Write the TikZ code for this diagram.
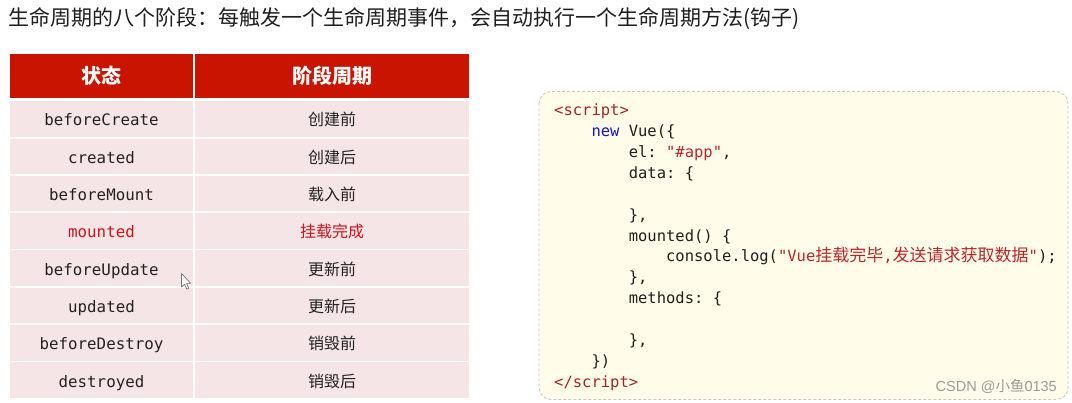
\documentclass[tikz,border=0pt]{standalone}
\usepackage{fontspec}
\setmainfont{Noto Sans CJK SC}
\newfontfamily\cjk{Noto Sans CJK SC}
\setmonofont{DejaVu Sans Mono}
\newfontfamily\wmfont{Liberation Sans}
\definecolor{hdrred}{HTML}{C81400}
\definecolor{rowpink}{HTML}{F6E5E7}
\definecolor{txtdark}{HTML}{222222}
\definecolor{hired}{HTML}{D0121B}
\definecolor{boxfill}{HTML}{FFFDEA}
\definecolor{boxline}{HTML}{C8C8C0}
\definecolor{tagred}{HTML}{A52424}
\definecolor{kwblue}{HTML}{1414C8}
\definecolor{strred}{HTML}{B8262A}
\definecolor{wmgray}{HTML}{9A9A9A}
\tikzset{
  hdrcell/.style={fill=hdrred, text=white, minimum height=44pt, inner sep=0pt,
    font=\fontsize{20}{20}\cjk\bfseries},
  lcell/.style={fill=rowpink, minimum width=183pt, minimum height=35.5pt, inner sep=0pt,
    text=txtdark, font=\fontsize{15.8}{16}\ttfamily, text height=16pt, text depth=2pt},
  rcell/.style={fill=rowpink, minimum width=274pt, minimum height=35.5pt, inner sep=0pt,
    text=txtdark, font=\fontsize{16}{16}\cjk, text height=16pt, text depth=2pt},
  codeline/.style={anchor=base west, inner sep=0pt, text=black!88,
    font=\fontsize{15.5}{16}\ttfamily},
}
\begin{document}
\begin{tikzpicture}[x=1pt,y=-1pt]
\useasboundingbox (0,0) rectangle (1072,403);
\fill[white] (0,0) rectangle (1072,403);
% title
\node[anchor=west, inner sep=0pt, text=black!88, font=\fontsize{21}{21}\cjk] (title) at (8,18.5)
  {生命周期的八个阶段：每触发一个生命周期事件，会自动执行一个生命周期方法(钩子)};
% table header
\node[hdrcell, minimum width=183pt] (h1) at (101.5,76) {状态};
\node[hdrcell, minimum width=274pt] (h2) at (332,76) {阶段周期};
% rows
\node[lcell] (l1) at (101.5,119) {beforeCreate};
\node[rcell] (r1) at (332,119) {创建前};
\node[lcell] (l2) at (101.5,156.3) {created};
\node[rcell] (r2) at (332,156.3) {创建后};
\node[lcell] (l3) at (101.5,193.6) {beforeMount};
\node[rcell] (r3) at (332,193.6) {载入前};
\node[lcell, text=hired] (l4) at (101.5,230.9) {mounted};
\node[rcell, text=hired] (r4) at (332,230.9) {挂载完成};
\node[lcell] (l5) at (101.5,268.2) {beforeUpdate};
\node[rcell] (r5) at (332,268.2) {更新前};
\node[lcell] (l6) at (101.5,305.5) {updated};
\node[rcell] (r6) at (332,305.5) {更新后};
\node[lcell] (l7) at (101.5,342.8) {beforeDestroy};
\node[rcell] (r7) at (332,342.8) {销毁前};
\node[lcell] (l8) at (101.5,380.1) {destroyed};
\node[rcell] (r8) at (332,380.1) {销毁后};
% mouse pointer
\draw[black!55, fill=white, line width=0.7pt, line join=round]
  (181.5,273.5) -- (181.5,287) -- (184.6,284.2) -- (186.8,289.2) -- (188.8,288.3)
  -- (186.6,283.4) -- (190.8,283.4) -- cycle;
% code box
\draw[boxline, fill=boxfill, dash pattern=on 3pt off 2pt, line width=0.9pt, rounded corners=12pt]
  (539,91.5) rectangle (1068,399.5);
\node[codeline, text=tagred] (c1) at (554,116) {<script>};
\node[codeline] (c2) at (554,136.85) {\hspace*{37.3pt}{\color{kwblue}new} Vue(\{};
\node[codeline] (c3) at (554,157.7) {\hspace*{74.6pt}el: {\color{strred}"\#app"},};
\node[codeline] (c4) at (554,178.55) {\hspace*{74.6pt}data: \{};
\node[codeline] (c6) at (554,220.25) {\hspace*{74.6pt}\},};
\node[codeline] (c7) at (554,241.1) {\hspace*{74.6pt}mounted() \{};
\node[codeline] (c8) at (554,261.95) {\hspace*{111.9pt}console.log({\color{strred}"Vue{\fontsize{17}{17}\cjk 挂载完毕},{\fontsize{17}{17}\cjk 发送请求获取数据}"});};
\node[codeline] (c9) at (554,282.8) {\hspace*{74.6pt}\},};
\node[codeline] (c10) at (554,303.65) {\hspace*{74.6pt}methods: \{};
\node[codeline] (c12) at (554,345.35) {\hspace*{74.6pt}\},};
\node[codeline] (c13) at (554,366.2) {\hspace*{37.3pt}\})};
\node[codeline, text=tagred] (c14) at (554,387.05) {</script>};
% watermark
\node[anchor=base east, inner sep=0pt, text=wmgray, font=\fontsize{14.5}{15}\wmfont] (wm) at (1057,392)
  {CSDN @{\cjk\fontsize{14.5}{15}\selectfont 小鱼}0135};
\end{tikzpicture}
\end{document}
